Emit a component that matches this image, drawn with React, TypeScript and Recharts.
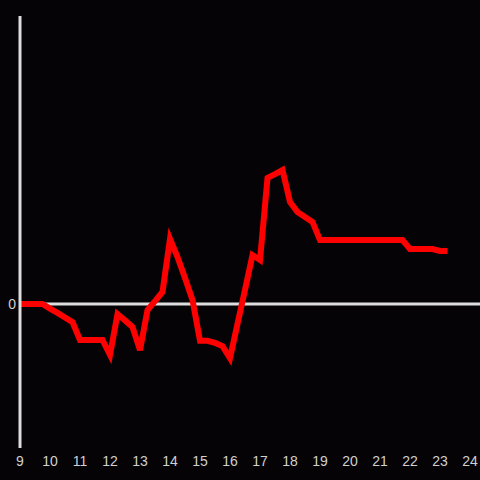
import { LineChart, Line, XAxis, YAxis, ReferenceLine } from "recharts";

// time of day in hours, one point every 15 minutes
const hours = [
  9, 9.25, 9.5, 9.75, 10, 10.25, 10.5, 10.75, 11, 11.25, 11.5, 11.75, 12, 12.25,
  12.5, 12.75, 13, 13.25, 13.5, 13.75, 14, 14.25, 14.5, 14.75, 15, 15.25, 15.5,
  15.75, 16, 16.25, 16.5, 16.75, 17, 17.25, 17.5, 17.75, 18, 18.25, 18.5, 18.75,
  19, 19.25, 19.5, 19.75, 20, 20.25, 20.5, 20.75, 21, 21.25, 21.5, 21.75, 22,
  22.25, 22.5, 22.75, 23, 23.25,
];

const values = [
  0, 0, 0, 0, -1.6, -3.1, -4.7, -6.3, -12.5, -12.5, -12.5, -12.5, -17.7, -3.5,
  -5.7, -8.0, -16.0, -2.1, 1.0, 4.2, 22.6, 16.3, 9.0, 1.4, -12.8, -12.8, -13.5,
  -14.6, -18.8, -6.9, 4.9, 17.0, 15.3, 43.8, 45.1, 46.5, 35.4, 31.9, 30.2, 28.5,
  22.2, 22.2, 22.2, 22.2, 22.2, 22.2, 22.2, 22.2, 22.2, 22.2, 22.2, 22.2, 19.1,
  19.1, 19.1, 19.1, 18.4, 18.4,
];

const xTicks = [9, 10, 11, 12, 13, 14, 15, 16, 17, 18, 19, 20, 21, 22, 23, 24];
const yTicks = [0];

const data = hours.map((t, i) => ({ t, v: values[i] }));

const axisColor = "#dddddd";
const tickStyle = { fontSize: 14, fill: "#d0d0d0", fontFamily: "Liberation Sans, Arial, sans-serif" };

export default function App() {
  return (
    <div style={{ position: "fixed", left: 0, top: 0, width: 480, height: 480, background: "#050306" }}>
      <LineChart
        width={480}
        height={480}
        data={data}
        margin={{ top: 16, right: 0, left: 0, bottom: 2 }}
      >
        <XAxis
          dataKey="t"
          type="number"
          domain={[9, 24 + 1 / 3]}
          ticks={xTicks}
          axisLine={false}
          tickLine={false}
          tickSize={0}
          tickMargin={8}
          height={30}
          tick={tickStyle}
          interval={0}
        />
        <YAxis
          type="number"
          domain={[-50, 100]}
          ticks={yTicks}
          width={20}
          axisLine={{ stroke: axisColor, strokeWidth: 3 }}
          tickLine={false}
          tickSize={0}
          tickMargin={4}
          tick={tickStyle}
        />
        <ReferenceLine y={0} stroke={axisColor} strokeWidth={3} />
        <Line
          type="linear"
          dataKey="v"
          stroke="#ff0000"
          strokeWidth={6}
          dot={false}
          isAnimationActive={false}
        />
      </LineChart>
    </div>
  );
}
